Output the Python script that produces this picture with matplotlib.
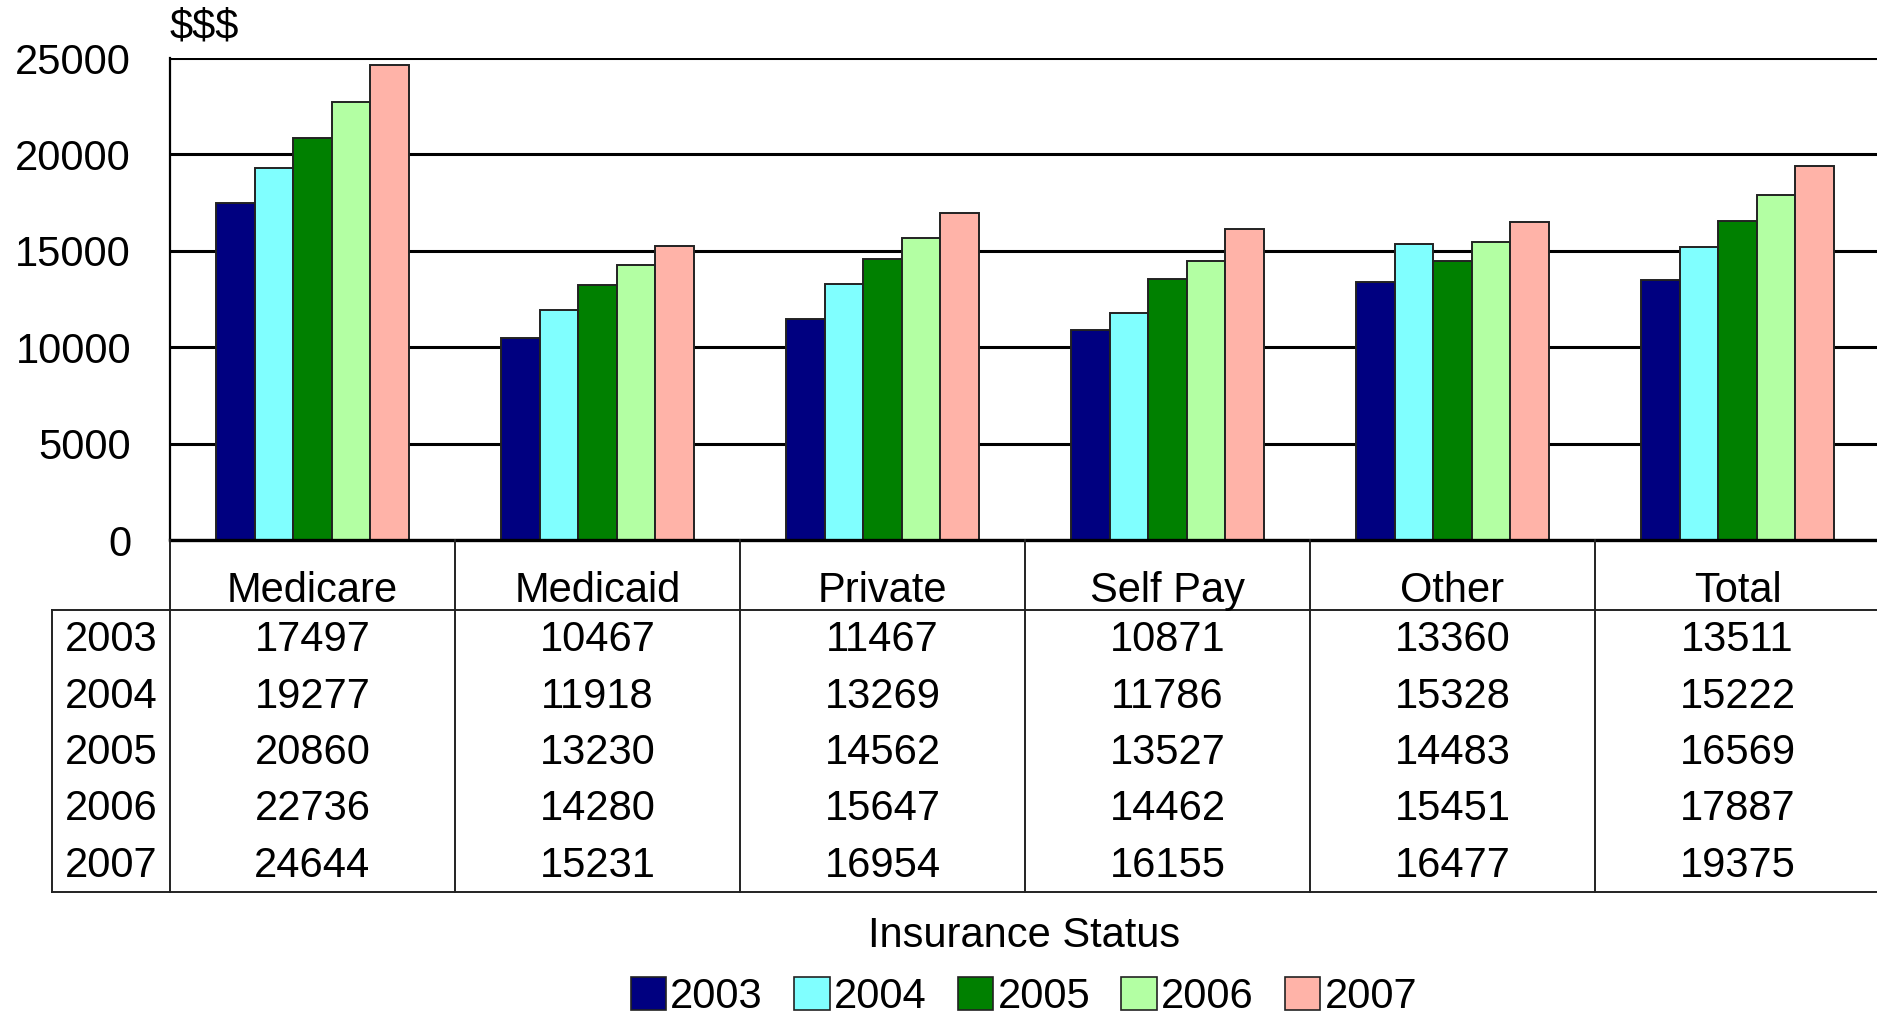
import matplotlib
matplotlib.use("Agg")
import matplotlib.pyplot as plt
from matplotlib import font_manager
from matplotlib.patches import Patch
import numpy as np

categories = ["Medicare", "Medicaid", "Private", "Self Pay", "Other", "Total"]
years = ["2003", "2004", "2005", "2006", "2007"]
v2003 = [17497, 10467, 11467, 10871, 13360, 13511]
v2004 = [19277, 11918, 13269, 11786, 15328, 15222]
v2005 = [20860, 13230, 14562, 13527, 14483, 16569]
v2006 = [22736, 14280, 15647, 14462, 15451, 17887]
v2007 = [24644, 15231, 16954, 16155, 16477, 19375]
series = [v2003, v2004, v2005, v2006, v2007]
colors = ["#000080", "#80FFFF", "#008000", "#B3FFA3", "#FFB3A8"]
yticks = [0, 5000, 10000, 15000, 20000, 25000]

W, H = 1877, 1014
DPI = 100
names = {f.name for f in font_manager.fontManager.ttflist}
base = "Liberation Sans" if "Liberation Sans" in names else "DejaVu Sans"
narrow = "Liberation Sans Narrow" if "Liberation Sans Narrow" in names else None
plt.rcParams["font.family"] = [base, "DejaVu Sans"]
FS = 30

fig = plt.figure(figsize=(W / DPI, H / DPI), dpi=DPI)
fig.patch.set_facecolor("white")

catw = 285.0  # px per category
ax_left, ax_top, ax_bot = 170, 58, 540
ax = fig.add_axes([ax_left / W, (H - ax_bot) / H, (6 * catw) / W, (ax_bot - ax_top) / H])
ax.set_xlim(-0.5, 5.5)
ax.set_ylim(0, 25000)

x = np.arange(len(categories))
bw = 0.135
for i, (vals, c) in enumerate(zip(series, colors)):
    ax.bar(x + (i - 2) * bw, vals, width=bw, color=c, edgecolor="#222222",
           linewidth=1.4, zorder=3)

ax.set_yticks(yticks)
ax.set_yticklabels([str(t) for t in yticks], fontsize=FS)
ax.tick_params(axis="y", length=0, pad=28)
ax.set_xticks([])
ax.yaxis.grid(True, color="black", linewidth=2.2, zorder=0)
ax.set_axisbelow(True)
for s in ["top", "right"]:
    ax.spines[s].set_visible(False)
ax.spines["left"].set_linewidth(1.6)
ax.spines["bottom"].set_linewidth(2.4)
ax.spines["bottom"].set_zorder(4)

ax.text(0, 1.0 + 31 / (ax_bot - ax_top), "$$$", transform=ax.transAxes,
        fontsize=FS, ha="left", va="center")

# data table beneath
t_left, t_bot = 52, 892
lab_w = (ax_left - t_left) / catw
tax = fig.add_axes([t_left / W, (H - t_bot) / H, (ax_left - t_left + 6 * catw) / W, (t_bot - ax_bot) / H])
tax.set_xlim(-0.5 - lab_w, 5.5)
tax.set_ylim(t_bot - ax_bot, 0)
tax.axis("off")
hdr = 70
rowh = (t_bot - ax_bot - hdr) / 5.0
lk = dict(color="#222222", linewidth=1.4, clip_on=False)
for k in range(7):
    tax.plot([-0.5 + k, -0.5 + k], [0, t_bot - ax_bot], **lk)
tax.plot([-0.5 - lab_w, -0.5 - lab_w], [hdr, t_bot - ax_bot], **lk)
tax.plot([-0.5 - lab_w, 5.5], [hdr, hdr], **lk)
tax.plot([-0.5 - lab_w, 5.5], [t_bot - ax_bot, t_bot - ax_bot], **lk)

for i, c in enumerate(categories):
    tax.text(i, 51, c, ha="center", va="center", fontsize=FS)
for j, (yr, vals) in enumerate(zip(years, series)):
    yc = hdr + rowh * (j + 0.5) + 2
    tax.text(-0.5 - lab_w / 2, yc, yr, ha="center", va="center", fontsize=FS)
    for i, v in enumerate(vals):
        tax.text(i, yc, str(v), ha="center", va="center", fontsize=FS)

lfam = [narrow, base] if narrow else [base]
lsize = 36 if narrow else 30
fig.text(1024 / W, (H - 936) / H, "Insurance Status", ha="center", va="center",
         fontsize=lsize, family=lfam)

handles = [Patch(facecolor=c, edgecolor="#222222", linewidth=1.2) for c in colors]
leg = fig.legend(handles, years, loc="center", bbox_to_anchor=(1024 / W, (H - 997) / H),
                 ncol=5, frameon=False, handlelength=0.85, handleheight=0.85,
                 handletextpad=0.1, columnspacing=0.75, borderpad=0,
                 prop={"family": lfam, "size": lsize})

fig.savefig("out.png", dpi=DPI, facecolor="white")
